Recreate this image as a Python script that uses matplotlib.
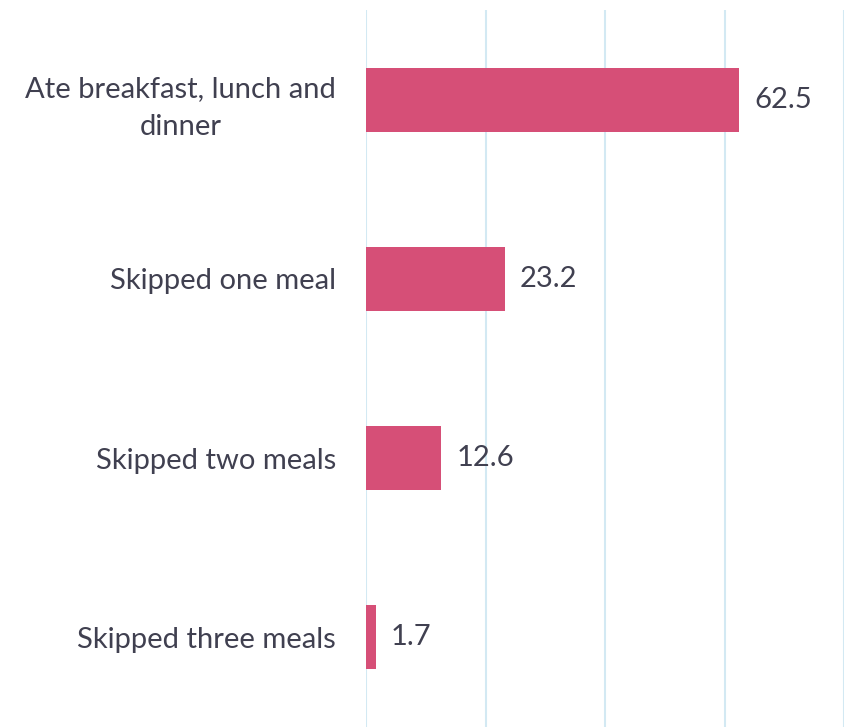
import matplotlib.pyplot as plt

# data
categories = ['Ate breakfast, lunch and\ndinner', 'Skipped one meal',
              'Skipped two meals', 'Skipped three meals']
values = [62.5, 23.2, 12.6, 1.7]

bar_color = '#D64F77'
text_color = '#404050'
grid_color = '#D3E9F3'

plt.rcParams['font.family'] = ['Lato', 'DejaVu Sans']

fig = plt.figure(figsize=(8.47, 7.27), dpi=100)
ax = fig.add_axes([366 / 847, 0, 478 / 847, 1 - 10 / 727])

y = list(range(len(categories)))
ax.barh(y, values, height=0.356, color=bar_color, zorder=3)

for yi, v in zip(y, values):
    ax.text(v + 2.5, yi, f'{v}', va='center', ha='left',
            fontsize=21, color=text_color)

ax.set_xlim(0, 80)
ax.set_ylim(3.5, -0.5)
ax.set_xticks([0, 20, 40, 60, 80])
ax.set_xticklabels([])
ax.set_yticks(y)
ax.set_yticklabels(categories, fontsize=21, color=text_color)
for lbl in ax.get_yticklabels():
    lbl.set_multialignment('center')
    lbl.set_linespacing(1.55)
ax.tick_params(axis='y', length=0, pad=21.5)
ax.tick_params(axis='x', length=0)
ax.grid(axis='x', color=grid_color, linewidth=1.5, zorder=0)
for s in ax.spines.values():
    s.set_visible(False)

fig.savefig('out.png', dpi=100)
